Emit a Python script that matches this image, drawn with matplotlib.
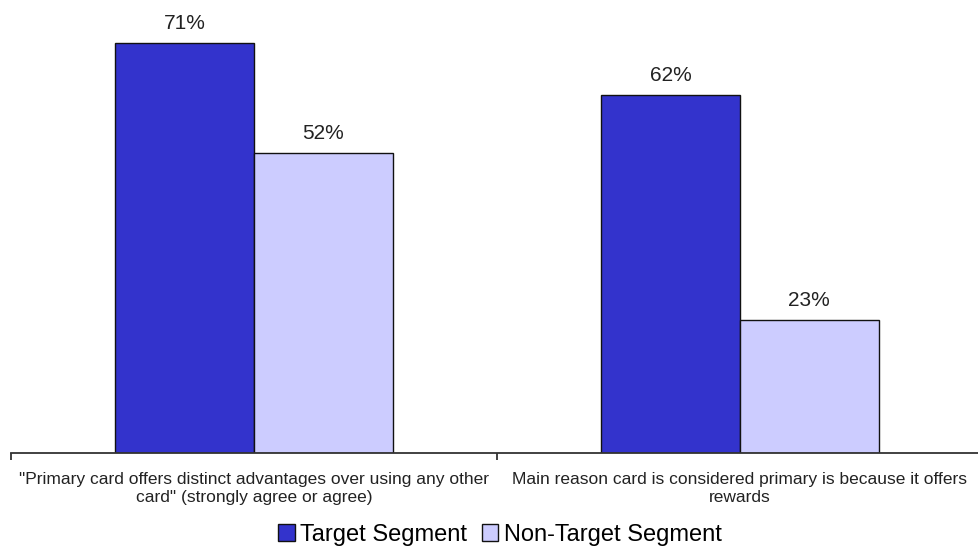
import matplotlib
matplotlib.use("Agg")
import matplotlib.pyplot as plt
import numpy as np

categories = ["\"Primary card offers distinct advantages over using any other\ncard\" (strongly agree or agree)",
              "Main reason card is considered primary is because it offers\nrewards"]
series_names = ["Target Segment", "Non-Target Segment"]
target = [71, 62]
non_target = [52, 23]
colors = ["#3333CC", "#CCCCFF"]

plt.rcParams['font.family'] = ['Liberation Sans', 'DejaVu Sans']

fig = plt.figure(figsize=(9.79, 5.5), dpi=100)
ax = fig.add_axes([11/979, 97/550, 972/979, 453/550])

x = np.arange(len(categories))
w = 0.285
b1 = ax.bar(x - w/2, target, w, color=colors[0], edgecolor="#111111", linewidth=1.0, label=series_names[0])
b2 = ax.bar(x + w/2, non_target, w, color=colors[1], edgecolor="#111111", linewidth=1.0, label=series_names[1])

for bars, vals in ((b1, target), (b2, non_target)):
    for r, v in zip(bars, vals):
        ax.annotate(f"{v}%", (r.get_x() + r.get_width()/2, v), xytext=(0, 7), textcoords="offset points",
                    ha="center", va="bottom", fontsize=15, color="#222222")

ax.set_xlim(-0.5, 1.5)
ax.set_ylim(0, 78.4)
for s in ["top", "left", "right"]:
    ax.spines[s].set_visible(False)
ax.spines["bottom"].set_color("#333333")
ax.spines["bottom"].set_linewidth(1.3)
ax.set_yticks([])
ax.set_xticks(x)
ax.set_xticklabels(categories, fontsize=12.5, color="#222222", linespacing=1.2)
ax.tick_params(axis="x", which="major", length=0, pad=14)
ax.set_xticks([-0.5, 0.5, 1.5], minor=True)
ax.tick_params(axis="x", which="minor", length=5, width=1.3, color="#333333")

leg = fig.legend(handles=[b1, b2], loc="center", bbox_to_anchor=(500/979, 1 - 535/550), ncol=2,
                 frameon=False, fontsize=17, handlelength=0.7, handleheight=0.7, handletextpad=0.25,
                 columnspacing=0.6, borderaxespad=0)

fig.savefig("out.png", dpi=100)
